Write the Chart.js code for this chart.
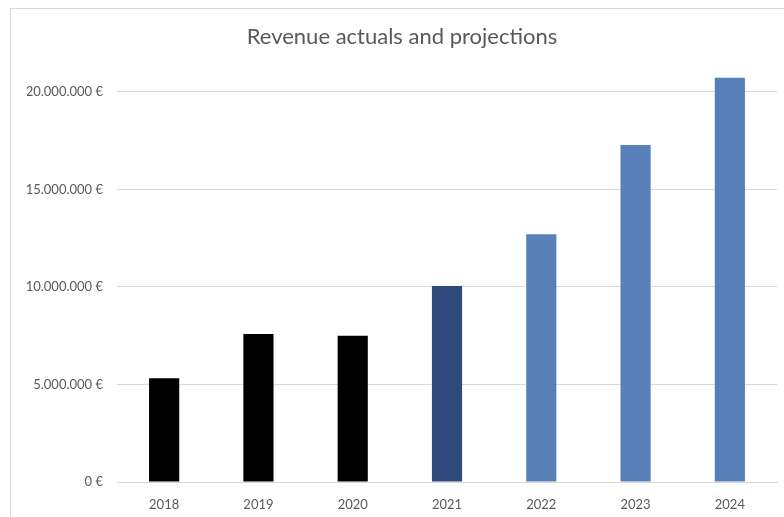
<!DOCTYPE html>
<html>
<head>
<meta charset="utf-8">
<script src="https://cdn.jsdelivr.net/npm/chart.js@4"></script>
<style>
  html, body { margin: 0; padding: 0; background: #ffffff; overflow: hidden; width: 784px; height: 517px; }
  #frame { position: absolute; left: 10px; top: 8px; width: 782px; height: 530px; border: 1px solid #d9d9d9; background: #fff; }
  canvas { display: block; }
</style>
</head>
<body>
<div id="frame"><canvas id="c" width="782" height="530"></canvas></div>
<script>
const titleText = "Revenue actuals and projections";
const years = ["2018", "2019", "2020", "2021", "2022", "2023", "2024"];
const revenue = [5320000, 7590000, 7500000, 10050000, 12700000, 17280000, 20730000];
const yTickValues = [0, 5000000, 10000000, 15000000, 20000000];
const barColors = ["#000000", "#000000", "#000000", "#2e4a7d", "#5a80b9", "#5a80b9", "#5a80b9"];

function euro(v) {
  const s = Math.round(v).toString().replace(/\B(?=(\d{3})+(?!\d))/g, ".");
  return s + " \u20AC";
}

const textColor = "#595959";
const gridColor = "#d9d9d9";
const fontFamily = "Lato, 'Open Sans', sans-serif";

new Chart(document.getElementById("c"), {
  type: "bar",
  data: {
    labels: years,
    datasets: [{
      data: revenue,
      backgroundColor: barColors,
      borderWidth: 0,
      barPercentage: 0.32,
      categoryPercentage: 1.0
    }]
  },
  options: {
    responsive: false,
    animation: false,
    layout: { padding: { left: 16, right: 16, top: 0, bottom: 0 } },
    plugins: {
      legend: { display: false },
      tooltip: { enabled: false },
      title: {
        display: true,
        text: titleText,
        color: textColor,
        font: { family: fontFamily, size: 22, weight: "normal", lineHeight: 1.2 },
        padding: { top: 15, bottom: 22 }
      }
    },
    scales: {
      x: {
        grid: { display: false, drawTicks: false },
        border: { display: true, color: gridColor, width: 1 },
        ticks: { color: textColor, font: { family: fontFamily, size: 13 }, padding: 15 },
        afterFit: (s) => { s.height = 57; }
      },
      y: {
        min: 0,
        max: 21000000,
        afterBuildTicks: (s) => { s.ticks = yTickValues.map(v => ({ value: v })); },
        grid: { color: gridColor, lineWidth: 1, drawTicks: false },
        border: { display: false },
        ticks: {
          color: textColor,
          font: { family: fontFamily, size: 13 },
          padding: 14,
          callback: (v) => euro(v)
        },
        afterFit: (s) => { s.width = 90; }
      }
    }
  }
});
</script>
</body>
</html>
